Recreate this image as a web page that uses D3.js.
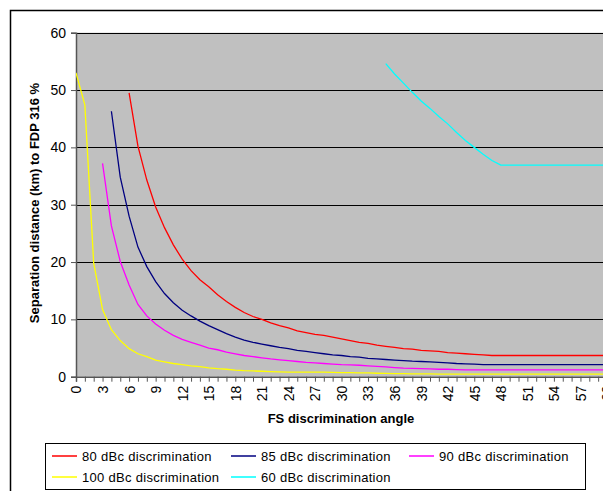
<!DOCTYPE html>
<html>
<head>
<meta charset="utf-8">
<script src="https://cdn.jsdelivr.net/npm/d3@7"></script>
<style>
  body { margin: 0; background: #fff; }
  svg text { font-family: Arial, "Liberation Sans", sans-serif; fill: #000; }
</style>
</head>
<body>
<svg width="603" height="491"></svg>
<script>
// angles 0..60 on a category axis
let angles = d3.range(0, 61);
let yTicks = [0, 10, 20, 30, 40, 50, 60];

function pad(n, vals, tail, total) {
  let out = [];
  for (let i = 0; i < n; i++) out.push(null);
  out = out.concat(vals);
  while (out.length < total) out.push(tail);
  return out;
}

let d80 = pad(6, [49.5, 40.2, 34.3, 29.6, 26.0, 23.0, 20.5, 18.5, 16.9, 15.7, 14.3, 13.1, 12.1, 11.2, 10.5,
  10.0, 9.4, 8.9, 8.5, 8.0, 7.7, 7.4, 7.2, 6.9, 6.6, 6.3, 6.0, 5.8, 5.5, 5.3, 5.1, 4.9, 4.8, 4.6, 4.5,
  4.4, 4.2, 4.1, 4.0, 3.9, 3.8, 3.7], 3.7, 61);
let d85 = pad(4, [46.3, 34.8, 28.0, 22.6, 19.2, 16.6, 14.5, 12.9, 11.6, 10.6, 9.7, 8.9, 8.2, 7.5, 6.9,
  6.4, 6.0, 5.7, 5.4, 5.1, 4.9, 4.6, 4.4, 4.2, 4.0, 3.8, 3.7, 3.5, 3.4, 3.2, 3.1, 3.0, 2.9, 2.8, 2.7,
  2.65, 2.6, 2.5, 2.4, 2.3, 2.25, 2.2, 2.1], 2.1, 61);
let d90 = pad(3, [37.2, 26.3, 20.1, 16.0, 12.6, 10.6, 9.2, 8.1, 7.2, 6.5, 6.0, 5.5, 5.0, 4.7, 4.3, 4.0,
  3.7, 3.5, 3.3, 3.1, 2.95, 2.8, 2.65, 2.5, 2.4, 2.3, 2.2, 2.1, 2.05, 2.0, 1.9, 1.8, 1.7, 1.6, 1.5,
  1.45, 1.4, 1.35, 1.3, 1.3, 1.25, 1.2], 1.2, 61);
let d100 = pad(0, [53.0, 47.4, 19.8, 11.7, 8.2, 6.3, 4.9, 4.0, 3.5, 2.9, 2.6, 2.3, 2.1, 1.9, 1.75, 1.55,
  1.4, 1.3, 1.15, 1.05, 1.0, 0.95, 0.9, 0.85, 0.8, 0.8, 0.8, 0.8, 0.8, 0.75, 0.7, 0.7, 0.68, 0.65,
  0.6, 0.58, 0.55, 0.52, 0.5, 0.5, 0.48, 0.46, 0.45], 0.45, 61);
let d60 = pad(35, [54.6, 52.8, 51.2, 49.6, 48.1, 46.8, 45.4, 44.1, 42.6, 41.2, 40.0, 38.8, 37.7, 36.9],
  36.9, 61);

let series = [
  { name: '80 dBc discrimination', values: d80, color: '#ff0000' },
  { name: '85 dBc discrimination', values: d85, color: '#000080' },
  { name: '90 dBc discrimination', values: d90, color: '#ff00ff' },
  { name: '100 dBc discrimination', values: d100, color: '#ffff00' },
  { name: '60 dBc discrimination', values: d60, color: '#00ffff' }
];

let svg = d3.select('svg');

// outer chart frame (cut off at right and bottom)
svg.append('path')
    .attr('d', 'M10.5,495 L10.5,10.5 L610,10.5')
    .attr('fill', 'none')
    .attr('stroke', '#000')
    .attr('stroke-width', 1.5);

let plotLeft = 76, plotTop = 32.7, plotBottom = 376.7;
let xScale = d3.scaleLinear().domain([0, 60]).range([plotLeft, plotLeft + 60 * 8.85]);
let yScale = d3.scaleLinear().domain([0, 60]).range([plotBottom, plotTop]);

svg.append('rect')
    .attr('x', plotLeft)
    .attr('y', plotTop)
    .attr('width', 603 - plotLeft)
    .attr('height', plotBottom - plotTop)
    .attr('fill', '#c0c0c0');

// gridlines
svg.append('g')
  .selectAll('line')
  .data(yTicks.filter(d => d > 0))
  .enter()
  .append('line')
    .attr('x1', plotLeft)
    .attr('x2', 603)
    .attr('y1', d => Math.round(yScale(d)) + 0.5)
    .attr('y2', d => Math.round(yScale(d)) + 0.5)
    .attr('stroke', '#000')
    .attr('stroke-width', 1);

// y axis
let yAxis = svg.append('g')
    .attr('transform', `translate(${plotLeft},0)`)
    .call(d3.axisLeft(yScale).tickValues(yTicks).tickSize(5).tickPadding(5));
yAxis.select('.domain').attr('stroke', '#555').attr('stroke-width', 1.5);
yAxis.selectAll('line').attr('stroke', '#555');
yAxis.selectAll('text').attr('font-size', 14).attr('font-family', 'Arial, "Liberation Sans", sans-serif');

// x axis (the last label is cut by the picture edge, as in the original)
let xAxis = svg.append('g')
    .attr('transform', `translate(0,${plotBottom})`)
    .call(d3.axisBottom(xScale).tickValues(angles).tickSize(5).tickFormat(d => d % 3 === 0 ? d : ''));
xAxis.select('.domain').attr('stroke', '#555').attr('stroke-width', 1.5);
xAxis.selectAll('line').attr('stroke', '#555');
xAxis.selectAll('text')
    .attr('font-size', 14)
    .attr('font-family', 'Arial, "Liberation Sans", sans-serif')
    .attr('text-anchor', 'end')
    .attr('transform', 'rotate(-90)')
    .attr('x', -9)
    .attr('y', 0)
    .attr('dy', '0.35em');

// lines
let line = d3.line()
    .defined(d => d != null)
    .x((d, i) => xScale(angles[i]))
    .y(d => yScale(d));

svg.append('clipPath').attr('id', 'plot')
  .append('rect').attr('x', plotLeft).attr('y', plotTop - 2).attr('width', 603 - plotLeft).attr('height', plotBottom - plotTop + 4);

svg.append('g')
    .attr('clip-path', 'url(#plot)')
  .selectAll('path')
  .data(series)
  .enter()
  .append('path')
    .attr('d', d => line(d.values))
    .attr('fill', 'none')
    .attr('stroke', d => d.color)
    .attr('stroke-width', 1.3);

// axis titles
svg.append('text')
    .attr('x', 341)
    .attr('y', 423)
    .attr('text-anchor', 'middle')
    .attr('font-size', 13)
    .attr('font-weight', 'bold')
    .text('FS discrimination angle');

svg.append('text')
    .attr('transform', 'translate(39,203) rotate(-90)')
    .attr('text-anchor', 'middle')
    .attr('font-size', 13)
    .attr('font-weight', 'bold')
    .text('Separation distance (km) to FDP 316 %');

// legend
let legend = svg.append('g');
legend.append('rect')
    .attr('x', 45.5)
    .attr('y', 443.5)
    .attr('width', 540)
    .attr('height', 46)
    .attr('fill', '#fff')
    .attr('stroke', '#000')
    .attr('stroke-width', 1);

let legendPos = [[52, 456], [231, 456], [409, 456], [52, 477], [231, 477]];

let item = legend.selectAll('g.item')
  .data(series)
  .enter()
  .append('g')
    .attr('transform', (d, i) => `translate(${legendPos[i][0]},${legendPos[i][1]})`);

item.append('line')
    .attr('x1', 0)
    .attr('x2', 25)
    .attr('stroke', d => d.color)
    .attr('stroke-width', 1.5);

item.append('text')
    .attr('x', 30)
    .attr('dy', '0.35em')
    .attr('font-size', 13)
    .attr('letter-spacing', 0.3)
    .text(d => d.name);
</script>
</body>
</html>
